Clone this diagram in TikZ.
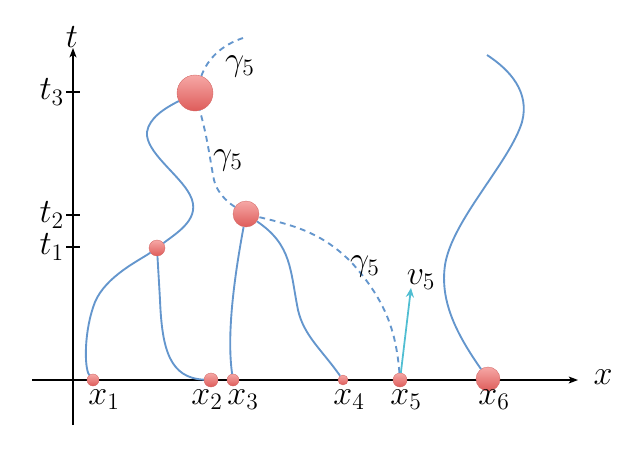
\documentclass[tikz,border=0pt]{standalone}
\usetikzlibrary{arrows.meta}
\begin{document}
\begin{tikzpicture}[x=0.03cm, y=-0.03cm,
    lab/.style={font=\huge, scale=1.4},
    ball/.style={circle, inner sep=0pt, minimum size=#1*0.06cm,
        top color=ballTop, bottom color=ballBot, draw=ballEdge, line width=0.3pt},
    path/.style={draw=pathBlue, line width=1.6pt},
    ghost/.style={path, dashed, dash pattern=on 5pt off 4pt},
    axis/.style={line width=1pt, -{Stealth[length=8pt, width=6pt, inset=2pt]}}]
    % Colours
    \definecolor{pathBlue}{RGB}{100, 150, 205}
    \definecolor{ballTop}{RGB}{246, 168, 166}
    \definecolor{ballBot}{RGB}{222, 92, 90}
    \definecolor{ballEdge}{RGB}{210, 100, 98}
    \definecolor{velCyan}{RGB}{80, 190, 210}

    \useasboundingbox (0,0) rectangle (623,467);

    % Axes
    \draw[axis] (32,380) -- (578,380);
    \draw[axis] (73,425) -- (73,48);
    \node[lab] (xlab) at (603,377) {$x$};
    \node[lab] (tlab) at (72,37) {$t$};

    % Ticks on the t axis
    \foreach \yy/\lab in {92/t_3, 215/t_2, 247/t_1} {
        \draw[line width=1pt] (66,\yy) -- (80,\yy);
        \node[lab, left, inner sep=1pt] at (66,\yy) {$\lab$};
    }

    % Starting points on the x axis
    \node[ball=6]  (X1) at (93,380)  {};
    \node[ball=7]  (X2) at (211,380) {};
    \node[ball=6]  (X3) at (233,380) {};
    \node[ball=5]  (X4) at (343,380) {};
    \node[ball=7]  (X5) at (400,380) {};
    \node[ball=12] (X6) at (488,379) {};
    \foreach \n/\xx in {1/104, 2/207, 3/243, 4/349, 5/406, 6/494}
        \node[lab] at (\xx,400) {$x_\n$};

    % Collision balls
    \node[ball=8]  (B1) at (157,248) {};
    \node[ball=13] (B2) at (246,214) {};
    \node[ball=18] (B3) at (195,93)  {};

    % Trajectories
    \draw[path] (X1) .. controls (84,368) and (84,330) .. (95,302)
        .. controls (106,276) and (140,260) .. (B1);
    \draw[path] (B1) .. controls (178,232) and (202,218) .. (190,195)
        .. controls (180,175) and (145,152) .. (147,132)
        .. controls (149,118) and (165,108) .. (B3);
    \draw[path] (X2) .. controls (170,378) and (162,350) .. (160,300)
        .. controls (159,282) and (158,266) .. (B1);
    \draw[path] (X3) .. controls (228,345) and (230,300) .. (B2);
    \draw[path] (X4) .. controls (322,350) and (304,336) .. (298,310)
        .. controls (290,270) and (292,245) .. (B2);
    \draw[path] (X6) .. controls (455,332) and (440,300) .. (445,265)
        .. controls (452,220) and (510,162) .. (522,122)
        .. controls (530,92) and (510,70) .. (487,55);

    % Dashed path of particle 5
    \draw[ghost] (X5) .. controls (396,330) and (385,300) .. (352,263)
        .. controls (322,232) and (292,225) .. (B2);
    \draw[ghost] (B2) .. controls (232,205) and (218,196) .. (214,180)
        .. controls (210,160) and (208,140) .. (B3);
    \draw[ghost] (B3) .. controls (208,58) and (222,45) .. (243,38);
    \node[lab] (g1) at (240,66)  {$\gamma_5$};
    \node[lab] (g2) at (228,160) {$\gamma_5$};
    \node[lab] (g3) at (365,266) {$\gamma_5$};

    % Velocity
    \draw[velCyan, line width=1.5pt, -{Stealth[length=8pt, width=7pt]}] (X5) -- (411,288);
    \node[lab] (v5) at (421,280) {$v_5$};
\end{tikzpicture}
\end{document}
